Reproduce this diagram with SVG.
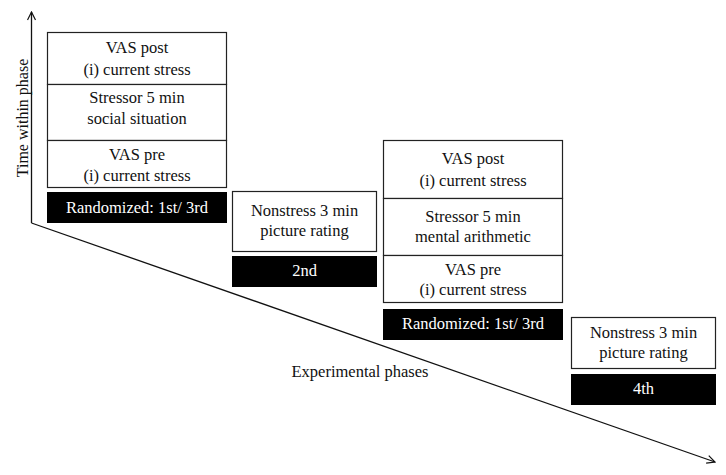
<svg xmlns="http://www.w3.org/2000/svg" width="726" height="475" viewBox="0 0 726 475">
<style>
.box{fill:#fff;stroke:#222;stroke-width:1.2}
.blk{fill:#000;stroke:#000;stroke-width:1}
.t{font-family:"Liberation Serif","Times New Roman",serif;font-size:16.5px;fill:#111;text-anchor:middle}
.w{fill:#fff}
.ax{fill:none;stroke:#111;stroke-width:1.3}
</style>
<defs>
<marker id="arr" viewBox="0 0 10 10" refX="9" refY="5" markerWidth="10" markerHeight="10" markerUnits="userSpaceOnUse" orient="auto">
<path d="M1,1 L9,5 L1,9" fill="none" stroke="#111" stroke-width="1.2"/>
</marker>
</defs>
<g id="connectors">
<line class="ax" x1="31.5" y1="223" x2="31.5" y2="12" marker-end="url(#arr)"/>
<line class="ax" x1="31.5" y1="223" x2="715" y2="462" marker-end="url(#arr)"/>
</g>
<g id="axis-labels">
<text class="t" transform="translate(28,118) rotate(-90)" style="font-size:16px">Time within phase</text>
<text class="t" x="360" y="377">Experimental phases</text>
</g>
<g id="phase1">
<rect class="box" x="47.5" y="32.5" width="179" height="52"/>
<text class="t" x="137" y="53">VAS post</text>
<text class="t" x="137" y="75">(i) current stress</text>
<rect class="box" x="47.5" y="84.5" width="179" height="56"/>
<text class="t" x="137" y="103">Stressor 5 min</text>
<text class="t" x="137" y="124">social situation</text>
<rect class="box" x="47.5" y="140.5" width="179" height="47"/>
<text class="t" x="137" y="160">VAS pre</text>
<text class="t" x="137" y="181">(i) current stress</text>
<rect class="blk" x="47.5" y="192.5" width="179" height="30"/>
<text class="t w" x="137" y="213">Randomized: 1st/ 3rd</text>
</g>
<g id="phase2">
<rect class="box" x="232.5" y="191.5" width="144" height="60"/>
<text class="t" x="304.5" y="216">Nonstress 3 min</text>
<text class="t" x="304.5" y="236">picture rating</text>
<rect class="blk" x="232.5" y="256.5" width="144" height="30"/>
<text class="t w" x="304.5" y="276">2nd</text>
</g>
<g id="phase3">
<rect class="box" x="383.5" y="140.5" width="179" height="58"/>
<text class="t" x="473" y="164">VAS post</text>
<text class="t" x="473" y="186">(i) current stress</text>
<rect class="box" x="383.5" y="198.5" width="179" height="57"/>
<text class="t" x="473" y="222">Stressor 5 min</text>
<text class="t" x="473" y="242">mental arithmetic</text>
<rect class="box" x="383.5" y="255.5" width="179" height="47"/>
<text class="t" x="473" y="275">VAS pre</text>
<text class="t" x="473" y="295">(i) current stress</text>
<rect class="blk" x="383.5" y="309.5" width="179" height="30"/>
<text class="t w" x="473" y="329">Randomized: 1st/ 3rd</text>
</g>
<g id="phase4">
<rect class="box" x="571.5" y="317.5" width="144" height="51"/>
<text class="t" x="643.5" y="338">Nonstress 3 min</text>
<text class="t" x="643.5" y="358">picture rating</text>
<rect class="blk" x="571.5" y="374.5" width="144" height="30"/>
<text class="t w" x="643.5" y="394">4th</text>
</g>
</svg>
